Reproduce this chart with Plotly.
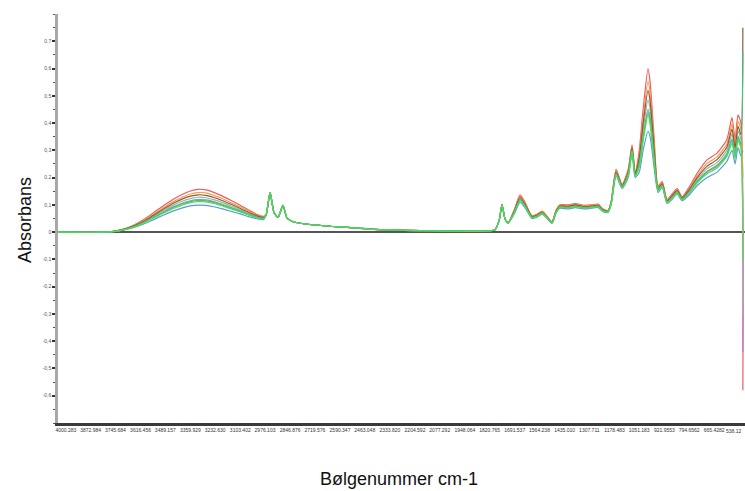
import plotly.graph_objects as go

# Wavenumber grid (cm-1), split into regions
wn_flat = [4041, 3799]
wn_oh = [3748, 3700, 3650, 3600, 3550, 3500, 3450, 3400, 3360, 3320,
         3280, 3240, 3200, 3150, 3100, 3050, 3010, 2985]
wn_mid = [2971, 2950, 2930, 2909, 2884, 2863, 2832, 2745, 2590, 2385,
          2127, 1870, 1793, 1772, 1757, 1741, 1726]
wn_fp = [1695, 1664, 1639, 1603, 1577, 1551, 1525, 1500, 1479, 1459,
         1417, 1381, 1330, 1294, 1263, 1237, 1212, 1196, 1170, 1139,
         1108, 1088, 1072, 1051, 1031, 1006, 995, 975, 954, 933,
         908, 882, 856, 831, 790, 754, 702, 651, 600, 574,
         558, 543, 528]
wn_end = [518]

# Shared absorbance in the flat and CH / carbonyl regions
abs_flat = [0.0, 0.0]
abs_mid = [0.062, 0.145, 0.072, 0.054, 0.098, 0.052, 0.038, 0.028, 0.019, 0.009,
           0.005, 0.003, 0.009, 0.042, 0.100, 0.047, 0.034]

# Per-sample absorbance: O-H band, fingerprint region, last point
red_oh = [0.004, 0.012, 0.026, 0.046, 0.071, 0.096, 0.120, 0.139, 0.151, 0.157,
          0.155, 0.146, 0.134, 0.116, 0.097, 0.077, 0.063, 0.058]
red_fp = [0.080, 0.137, 0.110, 0.060, 0.065, 0.077, 0.058, 0.038, 0.080, 0.100,
          0.100, 0.105, 0.098, 0.100, 0.103, 0.085, 0.080, 0.110, 0.230, 0.175,
          0.230, 0.320, 0.220, 0.300, 0.450, 0.600, 0.550, 0.350, 0.170, 0.185,
          0.120, 0.140, 0.160, 0.130, 0.170, 0.215, 0.265, 0.290, 0.340, 0.420,
          0.340, 0.430, 0.400]
red_end = [-0.58]

orange_oh = [0.004, 0.011, 0.024, 0.043, 0.066, 0.089, 0.111, 0.129, 0.140, 0.145,
             0.144, 0.135, 0.124, 0.108, 0.091, 0.073, 0.060, 0.056]
orange_fp = [0.077, 0.132, 0.106, 0.058, 0.063, 0.075, 0.056, 0.037, 0.078, 0.098,
             0.097, 0.102, 0.095, 0.098, 0.100, 0.083, 0.078, 0.108, 0.225, 0.172,
             0.224, 0.314, 0.216, 0.284, 0.420, 0.554, 0.510, 0.328, 0.165, 0.181,
             0.117, 0.136, 0.156, 0.127, 0.164, 0.206, 0.252, 0.276, 0.324, 0.396,
             0.322, 0.406, 0.376]
orange_end = [0.20]

brown_oh = [0.004, 0.011, 0.023, 0.040, 0.062, 0.084, 0.105, 0.122, 0.132, 0.137,
            0.135, 0.127, 0.117, 0.102, 0.086, 0.069, 0.058, 0.054]
brown_fp = [0.075, 0.128, 0.103, 0.057, 0.062, 0.073, 0.055, 0.036, 0.077, 0.096,
            0.095, 0.100, 0.093, 0.096, 0.098, 0.082, 0.077, 0.107, 0.221, 0.170,
            0.220, 0.310, 0.213, 0.272, 0.398, 0.520, 0.480, 0.312, 0.161, 0.178,
            0.115, 0.133, 0.153, 0.125, 0.160, 0.199, 0.242, 0.266, 0.312, 0.378,
            0.309, 0.388, 0.358]
brown_end = [0.75]

purple_oh = [0.003, 0.009, 0.020, 0.035, 0.054, 0.072, 0.090, 0.104, 0.112, 0.116,
             0.115, 0.109, 0.100, 0.088, 0.075, 0.062, 0.053, 0.050]
purple_fp = [0.070, 0.118, 0.096, 0.053, 0.058, 0.069, 0.052, 0.034, 0.073, 0.092,
             0.090, 0.095, 0.089, 0.092, 0.094, 0.078, 0.074, 0.103, 0.213, 0.165,
             0.209, 0.299, 0.206, 0.244, 0.345, 0.439, 0.410, 0.273, 0.153, 0.171,
             0.110, 0.126, 0.146, 0.120, 0.149, 0.184, 0.220, 0.241, 0.284, 0.336,
             0.277, 0.346, 0.316]
purple_end = [-0.44]

gray_oh = [0.004, 0.010, 0.021, 0.038, 0.058, 0.079, 0.098, 0.114, 0.123, 0.128,
           0.126, 0.119, 0.110, 0.096, 0.081, 0.066, 0.056, 0.052]
gray_fp = [0.073, 0.124, 0.100, 0.055, 0.060, 0.072, 0.054, 0.035, 0.075, 0.094,
           0.093, 0.098, 0.092, 0.094, 0.097, 0.080, 0.076, 0.105, 0.218, 0.168,
           0.215, 0.305, 0.210, 0.260, 0.375, 0.485, 0.450, 0.295, 0.158, 0.175,
           0.113, 0.130, 0.150, 0.123, 0.155, 0.193, 0.233, 0.255, 0.300, 0.360,
           0.295, 0.370, 0.340]
gray_end = [-0.30]

blue_oh = [0.003, 0.008, 0.017, 0.030, 0.046, 0.062, 0.077, 0.089, 0.096, 0.099,
           0.098, 0.093, 0.086, 0.076, 0.066, 0.055, 0.048, 0.046]
blue_fp = [0.065, 0.110, 0.090, 0.050, 0.055, 0.066, 0.050, 0.032, 0.070, 0.088,
           0.085, 0.090, 0.085, 0.088, 0.090, 0.075, 0.072, 0.100, 0.205, 0.160,
           0.200, 0.290, 0.200, 0.220, 0.300, 0.370, 0.350, 0.240, 0.145, 0.165,
           0.105, 0.120, 0.140, 0.115, 0.140, 0.170, 0.200, 0.220, 0.260, 0.300,
           0.250, 0.310, 0.280]
blue_end = [0.30]

teal_oh = [0.003, 0.009, 0.020, 0.036, 0.055, 0.074, 0.092, 0.107, 0.115, 0.119,
           0.118, 0.112, 0.103, 0.090, 0.077, 0.063, 0.053, 0.050]
teal_fp = [0.070, 0.119, 0.097, 0.054, 0.059, 0.070, 0.053, 0.034, 0.074, 0.092,
           0.090, 0.095, 0.090, 0.092, 0.095, 0.079, 0.075, 0.104, 0.214, 0.165,
           0.211, 0.300, 0.207, 0.248, 0.352, 0.450, 0.420, 0.278, 0.154, 0.172,
           0.110, 0.127, 0.147, 0.120, 0.150, 0.186, 0.223, 0.245, 0.288, 0.342,
           0.282, 0.352, 0.322]
teal_end = [0.66]

green_oh = [0.003, 0.009, 0.019, 0.034, 0.052, 0.069, 0.086, 0.100, 0.108, 0.112,
            0.111, 0.105, 0.097, 0.085, 0.073, 0.060, 0.051, 0.049]
green_fp = [0.068, 0.116, 0.094, 0.052, 0.057, 0.068, 0.052, 0.033, 0.072, 0.091,
            0.088, 0.093, 0.088, 0.091, 0.093, 0.077, 0.074, 0.102, 0.211, 0.163,
            0.207, 0.297, 0.204, 0.238, 0.333, 0.430, 0.394, 0.264, 0.151, 0.169,
            0.108, 0.124, 0.144, 0.118, 0.147, 0.180, 0.214, 0.235, 0.278, 0.326,
            0.270, 0.336, 0.306]
green_end = [-0.10]

# X tick labels (wavenumbers as printed by the instrument)
x_tick_vals = [4000.283, 3872.984, 3745.684, 3616.456, 3489.157, 3359.929, 3232.630,
               3103.402, 2976.103, 2846.876, 2719.576, 2590.347, 2463.048, 2333.820,
               2204.592, 2077.292, 1948.064, 1820.765, 1691.537, 1564.238, 1435.010,
               1307.711, 1178.483, 1051.183, 921.9553, 794.6562, 665.4282]
x_tick_text = ["4000.283", "3872.984", "3745.684", "3616.456", "3489.157", "3359.929",
               "3232.630", "3103.402", "2976.103", "2846.876", "2719.576", "2590.347",
               "2463.048", "2333.820", "2204.592", "2077.292", "1948.064", "1820.765",
               "1691.537", "1564.238", "1435.010", "1307.711", "1178.483", "1051.183",
               "921.9553", "794.6562", "665.4282"]
# last label sits against the right edge of the page
x_last_tick_text = "538.12"

y_tick_vals = [-0.6, -0.5, -0.4, -0.3, -0.2, -0.1, 0, 0.1, 0.2, 0.3, 0.4, 0.5, 0.6, 0.7]
y_tick_text = ["-0,6", "-0,5", "-0,4", "-0,3", "-0,2", "-0,1", "0",
               "0,1", "0,2", "0,3", "0,4", "0,5", "0,6", "0,7"]

wn_all = wn_flat + wn_oh + wn_mid + wn_fp + wn_end

samples = [
    ("red", red_oh, red_fp, red_end, "#f25a5a"),
    ("purple", purple_oh, purple_fp, purple_end, "#b57ad6"),
    ("gray", gray_oh, gray_fp, gray_end, "#b0a8a8"),
    ("orange", orange_oh, orange_fp, orange_end, "#f0a04a"),
    ("brown", brown_oh, brown_fp, brown_end, "#8c5a3c"),
    ("blue", blue_oh, blue_fp, blue_end, "#5b9bd5"),
    ("teal", teal_oh, teal_fp, teal_end, "#3cc878"),
    ("green", green_oh, green_fp, green_end, "#4ddf4d"),
]

fig = go.Figure()
for name, oh, fp, end, color in samples:
    fig.add_trace(go.Scatter(
        x=wn_all,
        y=abs_flat + oh + abs_mid + fp + end,
        mode="lines",
        name=name,
        line=dict(color=color, width=1.2, shape="spline", smoothing=0.6),
        hoverinfo="skip",
    ))

L, R, T, B = 58, 0, 14, 68
W, H = 745, 491
pw, ph = W - L - R, H - T - B


def px_to_paper(px, py):
    return (px - L) / pw, (H - B - py) / ph


ax_x, ax_y = px_to_paper(25, 220)
tx_x, tx_y = px_to_paper(399, 479)
lt_x, lt_y = px_to_paper(744, 431)

fig.update_layout(
    width=W, height=H,
    margin=dict(l=L, r=R, t=T, b=B),
    paper_bgcolor="white", plot_bgcolor="white",
    showlegend=False,
    font=dict(family="Liberation Sans, Arial, sans-serif"),
    xaxis=dict(
        range=[4041, 507],
        showgrid=False, zeroline=False,
        showline=True, linecolor="#3a3a3a", linewidth=3,
        tickmode="array", tickvals=x_tick_vals, ticktext=x_tick_text,
        ticks="", tickfont=dict(size=5, color="#333333"),
    ),
    yaxis=dict(
        range=[-0.7, 0.8],
        showgrid=False,
        zeroline=True, zerolinecolor="#555555", zerolinewidth=1.5,
        showline=True, linecolor="#a8a8a8", linewidth=2.5,
        tickmode="array", tickvals=y_tick_vals, ticktext=y_tick_text,
        ticks="outside", ticklen=3, tickwidth=1.5, tickcolor="#333333",
        tickfont=dict(size=5, color="#555555"),
        minor=dict(dtick=0.05, tick0=0, ticks="outside", ticklen=2,
                   tickwidth=1, tickcolor="#555555"),
    ),
    annotations=[
        dict(text="Absorbans", x=ax_x, y=ax_y, xref="paper", yref="paper",
             xanchor="center", yanchor="middle",
             showarrow=False, textangle=-90,
             font=dict(size=18, color="#111111")),
        dict(text="Bølgenummer cm-1", x=tx_x, y=tx_y, xref="paper", yref="paper",
             xanchor="center", yanchor="middle",
             showarrow=False, font=dict(size=18, color="#111111")),
        dict(text=x_last_tick_text, x=lt_x, y=lt_y, xref="paper", yref="paper",
             xanchor="right", yanchor="middle", showarrow=False,
             font=dict(size=5, color="#333333")),
    ],
)

fig.write_html("out.html")
